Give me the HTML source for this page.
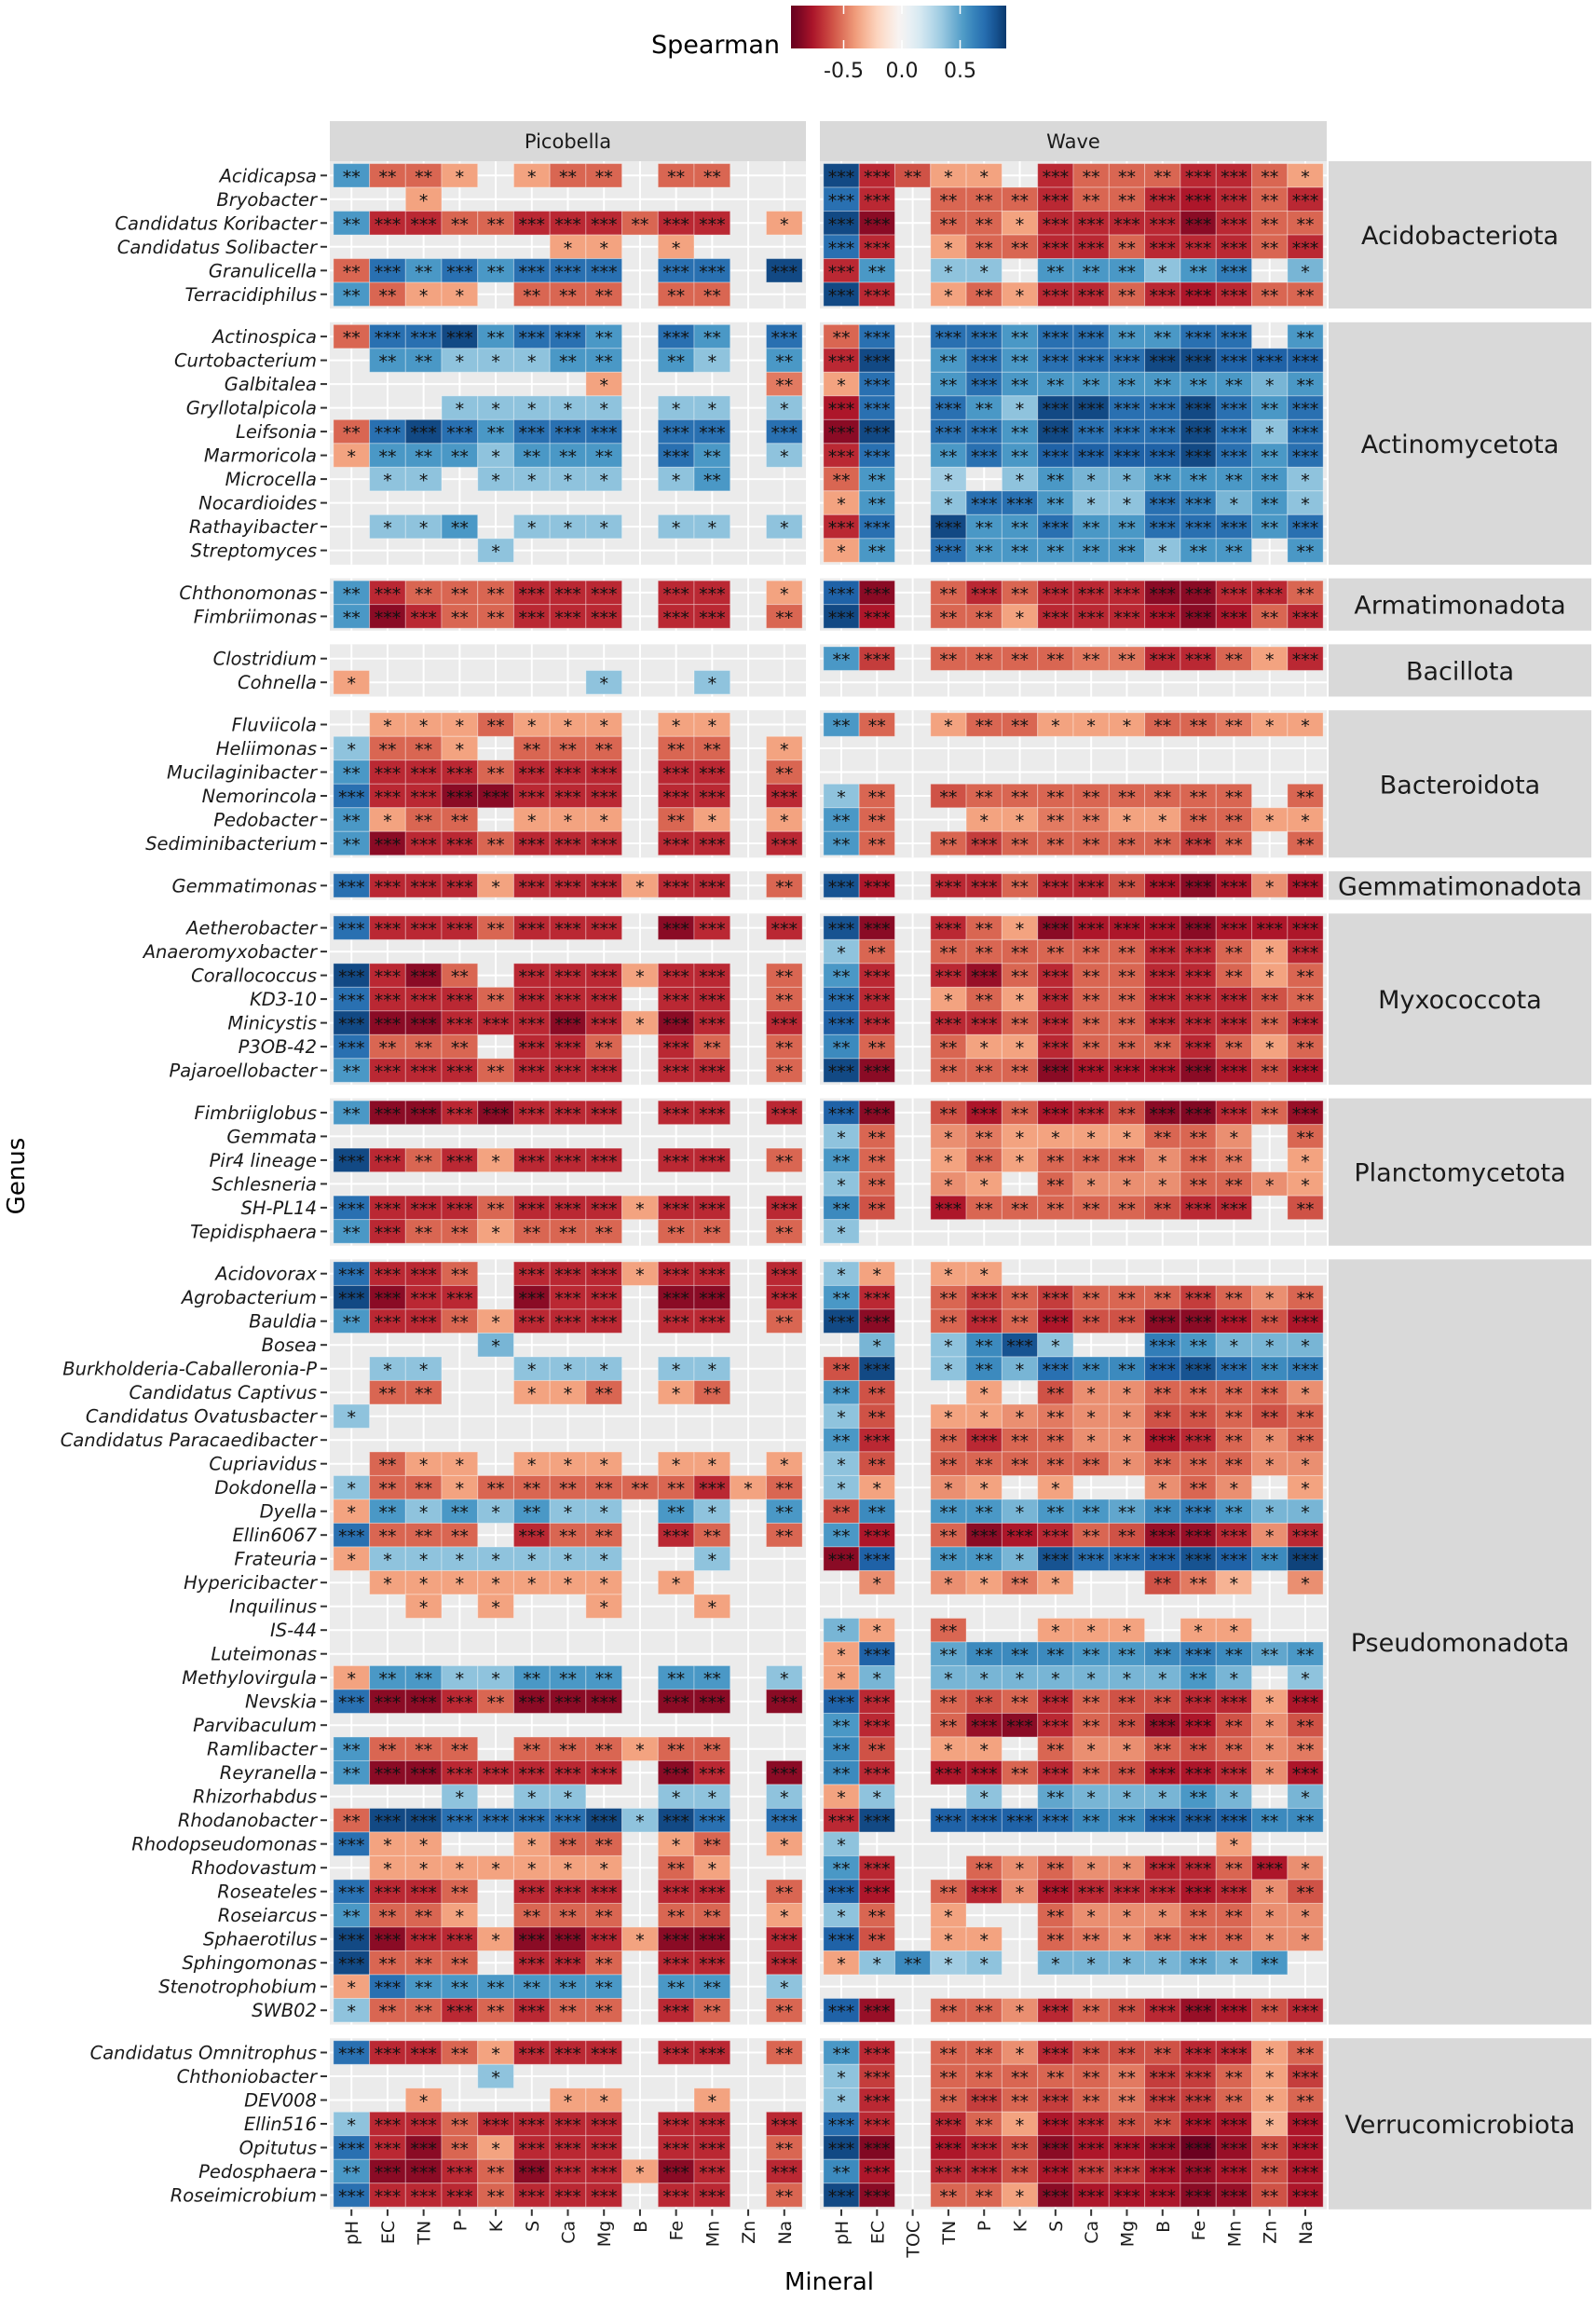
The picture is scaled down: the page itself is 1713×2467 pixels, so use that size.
<!DOCTYPE html>
<html><head><meta charset="utf-8"><style>
html,body{margin:0;padding:0;background:#fff}
svg text{font-family:"DejaVu Sans","Liberation Sans",sans-serif}
</style></head><body>
<svg id="chart" xmlns="http://www.w3.org/2000/svg" width="1713" height="2462" viewBox="0 0 1713 2462">
<rect x="0" y="0" width="1713" height="2462" fill="#fff"/>
</svg>
<script>
const _ = null;
const picoCols = ["pH","EC","TN","P","K","S","Ca","Mg","B","Fe","Mn","Zn","Na"];
const waveCols = ["pH","EC","TOC","TN","P","K","S","Ca","Mg","B","Fe","Mn","Zn","Na"];
const phyla = ["Acidobacteriota","Actinomycetota","Armatimonadota","Bacillota","Bacteroidota","Gemmatimonadota","Myxococcota","Planctomycetota","Pseudomonadota","Verrucomicrobiota"];
const genera = [
 ["Acidicapsa","Bryobacter","Candidatus Koribacter","Candidatus Solibacter","Granulicella","Terracidiphilus"],
 ["Actinospica","Curtobacterium","Galbitalea","Gryllotalpicola","Leifsonia","Marmoricola","Microcella","Nocardioides","Rathayibacter","Streptomyces"],
 ["Chthonomonas","Fimbriimonas"],
 ["Clostridium","Cohnella"],
 ["Fluviicola","Heliimonas","Mucilaginibacter","Nemorincola","Pedobacter","Sediminibacterium"],
 ["Gemmatimonas"],
 ["Aetherobacter","Anaeromyxobacter","Corallococcus","KD3-10","Minicystis","P3OB-42","Pajaroellobacter"],
 ["Fimbriiglobus","Gemmata","Pir4 lineage","Schlesneria","SH-PL14","Tepidisphaera"],
 ["Acidovorax","Agrobacterium","Bauldia","Bosea","Burkholderia-Caballeronia-P","Candidatus Captivus","Candidatus Ovatusbacter","Candidatus Paracaedibacter","Cupriavidus","Dokdonella","Dyella","Ellin6067","Frateuria","Hypericibacter","Inquilinus","IS-44","Luteimonas","Methylovirgula","Nevskia","Parvibaculum","Ramlibacter","Reyranella","Rhizorhabdus","Rhodanobacter","Rhodopseudomonas","Rhodovastum","Roseateles","Roseiarcus","Sphaerotilus","Sphingomonas","Stenotrophobium","SWB02"],
 ["Candidatus Omnitrophus","Chthoniobacter","DEV008","Ellin516","Opitutus","Pedosphaera","Roseimicrobium"]
];
// Picobella Spearman values (rows in genus order, columns picoCols)
const picoValues = [
 [.5,-.5,-.5,-.35,_,-.35,-.5,-.5,_,-.5,-.5,_,_],
 [_,_,-.35],
 [.5,-.65,-.65,-.5,-.5,-.65,-.65,-.65,-.5,-.65,-.65,_,-.35],
 [_,_,_,_,_,_,-.35,-.35,_,-.35],
 [-.5,.65,.5,.65,.5,.65,.65,.65,_,.65,.65,_,.78],
 [.5,-.5,-.35,-.35,_,-.5,-.5,-.5,_,-.5,-.5,_,_],
 [-.5,.65,.65,.78,.5,.65,.65,.5,_,.65,.5,_,.65],
 [_,.5,.5,.35,.35,.35,.5,.5,_,.5,.35,_,.5],
 [_,_,_,_,_,_,_,-.35,_,_,_,_,-.45],
 [_,_,_,.35,.35,.35,.35,.35,_,.35,.35,_,.35],
 [-.5,.65,.78,.65,.5,.65,.65,.65,_,.65,.65,_,.65],
 [-.35,.5,.5,.5,.35,.5,.5,.5,_,.65,.5,_,.35],
 [_,.35,.35,_,.35,.35,.35,.35,_,.35,.5],
 [],
 [_,.35,.35,.5,_,.35,.35,.35,_,.35,.35,_,.35],
 [_,_,_,_,.35],
 [.5,-.65,-.5,-.5,-.5,-.65,-.65,-.65,_,-.65,-.65,_,-.35],
 [.5,-.78,-.65,-.5,-.5,-.65,-.65,-.65,_,-.65,-.65,_,-.5],
 [],
 [-.35,_,_,_,_,_,_,.35,_,_,.35],
 [_,-.35,-.35,-.35,-.5,-.35,-.35,-.35,_,-.35,-.35],
 [.35,-.5,-.5,-.35,_,-.5,-.5,-.5,_,-.5,-.5,_,-.35],
 [.5,-.65,-.65,-.65,-.5,-.65,-.65,-.65,_,-.65,-.65,_,-.5],
 [.65,-.65,-.65,-.78,-.78,-.65,-.65,-.65,_,-.65,-.65,_,-.65],
 [.5,-.35,-.5,-.5,_,-.35,-.35,-.35,_,-.5,-.35,_,-.35],
 [.5,-.78,-.65,-.65,-.5,-.65,-.65,-.65,_,-.65,-.65,_,-.65],
 [.65,-.65,-.65,-.65,-.35,-.65,-.65,-.65,-.35,-.65,-.65,_,-.5],
 [.65,-.65,-.65,-.65,-.5,-.65,-.65,-.65,_,-.78,-.65,_,-.65],
 [],
 [.78,-.65,-.78,-.5,_,-.65,-.65,-.65,-.35,-.65,-.65,_,-.5],
 [.65,-.65,-.65,-.65,-.5,-.65,-.65,-.65,_,-.65,-.65,_,-.5],
 [.78,-.78,-.78,-.65,-.65,-.65,-.78,-.65,-.35,-.78,-.65,_,-.65],
 [.65,-.5,-.5,-.5,_,-.65,-.65,-.5,_,-.65,-.5,_,-.5],
 [.5,-.65,-.65,-.65,-.5,-.65,-.65,-.65,_,-.65,-.65,_,-.5],
 [.5,-.78,-.78,-.65,-.78,-.65,-.65,-.65,_,-.65,-.65,_,-.65],
 [],
 [.78,-.65,-.5,-.65,-.35,-.65,-.65,-.65,_,-.65,-.65,_,-.5],
 [],
 [.65,-.65,-.65,-.65,-.5,-.65,-.65,-.65,-.35,-.65,-.65,_,-.65],
 [.5,-.65,-.5,-.5,-.35,-.5,-.5,-.5,_,-.5,-.5,_,-.5],
 [.65,-.65,-.65,-.5,_,-.65,-.65,-.65,-.35,-.65,-.65,_,-.65],
 [.78,-.78,-.65,-.65,_,-.78,-.65,-.65,_,-.78,-.78,_,-.65],
 [.5,-.65,-.65,-.5,-.35,-.65,-.65,-.65,_,-.65,-.65,_,-.5],
 [_,_,_,_,.4],
 [_,.35,.35,_,_,.35,.35,.35,_,.35,.35],
 [_,-.5,-.5,_,_,-.35,-.35,-.5,_,-.35,-.5],
 [.35],
 [],
 [_,-.5,-.35,-.35,_,-.35,-.35,-.35,_,-.35,-.35,_,-.35],
 [.35,-.5,-.5,-.35,-.5,-.5,-.5,-.5,-.5,-.5,-.65,-.35,-.5],
 [-.35,.5,.35,.5,.35,.5,.35,.35,_,.5,.35,_,.5],
 [.65,-.5,-.5,-.5,_,-.65,-.5,-.5,_,-.65,-.5,_,-.5],
 [-.35,.35,.35,.35,.35,.35,.35,.35,_,_,.35],
 [_,-.35,-.35,-.35,-.35,-.35,-.35,-.35,_,-.35],
 [_,_,-.35,_,-.35,_,_,-.35,_,_,-.35],
 [],
 [],
 [-.35,.5,.5,.35,.35,.5,.5,.5,_,.5,.5,_,.35],
 [.65,-.78,-.78,-.65,-.5,-.78,-.78,-.78,_,-.78,-.78,_,-.78],
 [],
 [.5,-.5,-.5,-.5,_,-.5,-.5,-.5,-.35,-.5,-.5],
 [.5,-.78,-.78,-.65,-.65,-.65,-.65,-.65,_,-.78,-.65,_,-.78],
 [_,_,_,.35,_,.35,.35,_,_,.35,.35,_,.35],
 [-.5,.78,.78,.65,.65,.65,.65,.78,.35,.78,.65,_,.65],
 [.65,-.35,-.35,_,_,-.35,-.5,-.5,_,-.35,-.5,_,-.35],
 [_,-.35,-.35,-.35,-.35,-.35,-.35,-.35,_,-.5,-.35],
 [.65,-.65,-.65,-.5,_,-.65,-.65,-.65,_,-.65,-.65,_,-.5],
 [.5,-.5,-.5,-.35,_,-.5,-.5,-.5,_,-.5,-.5,_,-.35],
 [.78,-.78,-.65,-.65,-.35,-.78,-.78,-.65,-.35,-.78,-.78,_,-.65],
 [.78,-.5,-.5,-.5,_,-.65,-.65,-.5,_,-.65,-.65,_,-.65],
 [-.35,.65,.5,.5,.5,.5,.5,.5,_,.5,.5,_,.35],
 [.35,-.5,-.5,-.65,-.5,-.65,-.5,-.5,_,-.65,-.5,_,-.5],
 [.65,-.65,-.65,-.5,-.35,-.65,-.65,-.65,_,-.65,-.65,_,-.5],
 [_,_,_,_,.35],
 [_,_,-.35,_,_,_,-.35,-.35,_,_,-.35],
 [.35,-.65,-.65,-.5,-.65,-.65,-.65,-.65,_,-.65,-.65,_,-.65],
 [.65,-.65,-.78,-.5,-.35,-.65,-.65,-.65,_,-.65,-.65,_,-.5],
 [.5,-.78,-.78,-.65,-.5,-.78,-.65,-.65,-.35,-.78,-.65,_,-.65],
 [.65,-.65,-.65,-.65,-.5,-.65,-.65,-.65,_,-.65,-.65,_,-.5]
];
// Wave Spearman values (columns waveCols)
const waveValues = [
 [.78,-.65,-.55,-.35,-.35,_,-.65,-.5,-.5,-.5,-.65,-.65,-.5,-.35],
 [.65,-.65,_,-.5,-.5,-.5,-.65,-.5,-.5,-.65,-.7,-.65,-.5,-.65],
 [.78,-.78,_,-.5,-.5,-.35,-.65,-.65,-.65,-.65,-.78,-.65,-.5,-.5],
 [.65,-.65,_,-.35,-.5,-.5,-.65,-.65,-.5,-.65,-.65,-.65,-.5,-.65],
 [-.65,.5,_,.35,.35,_,.5,.5,.5,.35,.5,.6,_,.4],
 [.78,-.65,_,-.35,-.5,-.35,-.65,-.65,-.5,-.65,-.7,-.65,-.5,-.5],
 [-.5,.65,_,.65,.65,.5,.65,.65,.5,.5,.65,.65,_,.5],
 [-.65,.78,_,.5,.65,.5,.65,.65,.65,.78,.78,.7,.7,.7],
 [-.35,.65,_,.5,.65,.5,.5,.5,.5,.5,.5,.5,.4,.5],
 [-.7,.65,_,.65,.5,.35,.78,.78,.65,.65,.78,.65,.5,.65],
 [-.78,.78,_,.65,.65,.5,.78,.65,.65,.65,.78,.65,.35,.65],
 [-.65,.65,_,.5,.65,.5,.7,.7,.7,.7,.78,.65,.5,.65],
 [-.5,.5,_,.3,_,.35,.5,.4,.4,.5,.5,.5,.5,.35],
 [-.35,.5,_,.35,.65,.65,.5,.35,.35,.65,.6,.4,.5,.35],
 [-.65,.65,_,.78,.5,.5,.65,.5,.5,.65,.65,.65,.5,.65],
 [-.35,.5,_,.65,.5,.5,.5,.5,.5,.35,.5,.5,_,.5],
 [.7,-.78,_,-.5,-.65,-.5,-.65,-.65,-.65,-.78,-.78,-.65,-.65,-.5],
 [.78,-.7,_,-.5,-.5,-.35,-.65,-.65,-.65,-.7,-.78,-.7,-.5,-.65],
 [.5,-.6,_,-.5,-.5,-.5,-.5,-.45,-.45,-.65,-.65,-.5,-.35,-.65],
 [],
 [.5,-.5,_,-.35,-.5,-.5,-.35,-.35,-.35,-.5,-.5,-.45,-.35,-.35],
 [],
 [],
 [.35,-.5,_,-.55,-.5,-.5,-.5,-.5,-.5,-.5,-.5,-.5,_,-.5],
 [.5,-.5,_,_,-.35,-.35,-.45,-.45,-.35,-.35,-.5,-.5,-.35,-.35],
 [.5,-.5,_,-.5,-.6,-.5,-.5,-.5,-.5,-.5,-.6,-.5,_,-.5],
 [.75,-.7,_,-.65,-.65,-.5,-.65,-.65,-.55,-.7,-.78,-.7,-.4,-.7],
 [.75,-.78,_,-.65,-.5,-.35,-.78,-.7,-.7,-.7,-.78,-.7,-.7,-.7],
 [.35,-.5,_,-.5,-.5,-.5,-.5,-.5,-.5,-.65,-.65,-.5,-.35,-.65],
 [.5,-.65,_,-.65,-.75,-.5,-.65,-.5,-.5,-.65,-.65,-.5,-.35,-.5],
 [.65,-.65,_,-.35,-.5,-.35,-.65,-.5,-.5,-.65,-.65,-.65,-.55,-.5],
 [.7,-.65,_,-.65,-.65,-.5,-.65,-.5,-.5,-.65,-.65,-.65,-.5,-.65],
 [.55,-.5,_,-.5,-.35,-.35,-.65,-.5,-.5,-.5,-.65,-.5,-.35,-.5],
 [.78,-.78,_,-.5,-.5,-.5,-.78,-.7,-.7,-.7,-.78,-.7,-.55,-.7],
 [.7,-.78,_,-.55,-.7,-.5,-.7,-.65,-.55,-.78,-.8,-.65,-.5,-.75],
 [.35,-.5,_,-.4,-.45,-.35,-.35,-.35,-.35,-.5,-.5,-.4,_,-.5],
 [.5,-.5,_,-.35,-.5,-.35,-.5,-.5,-.5,-.4,-.5,-.45,_,-.35],
 [.35,-.5,_,-.4,-.35,_,-.5,-.4,-.4,-.4,-.5,-.5,-.4,-.35],
 [.55,-.55,_,-.7,-.5,-.5,-.5,-.5,-.5,-.55,-.65,-.65,_,-.55],
 [.35],
 [.35,-.35,_,-.35,-.35],
 [.5,-.65,_,-.5,-.6,-.5,-.6,-.5,-.5,-.5,-.6,-.5,-.4,-.5],
 [.78,-.78,_,-.5,-.65,-.5,-.7,-.55,-.55,-.78,-.78,-.7,-.55,-.7],
 [_,.4,_,.35,.55,.75,.35,_,_,.6,.5,.4,.4,.4],
 [-.55,.78,_,.35,.55,.4,.65,.55,.55,.7,.75,.65,.55,.6],
 [.5,-.55,_,_,-.35,_,-.55,-.4,-.4,-.5,-.5,-.5,-.5,-.4],
 [.35,-.55,_,-.35,-.35,-.4,-.45,-.4,-.4,-.55,-.55,-.5,-.55,-.5],
 [.5,-.65,_,-.5,-.65,-.5,-.5,-.4,-.4,-.7,-.65,-.5,-.4,-.5],
 [.35,-.55,_,-.5,-.5,-.5,-.5,-.5,-.4,-.5,-.5,-.5,-.4,-.4],
 [.35,-.35,_,-.4,-.35,_,-.35,_,_,-.4,-.5,-.4,_,-.35],
 [-.55,.55,_,.5,.5,.4,.5,.5,.45,.55,.6,.5,.4,.4],
 [.5,-.7,_,-.5,-.78,-.7,-.65,-.5,-.55,-.75,-.75,-.65,-.4,-.65],
 [-.78,.7,_,.5,.5,.4,.75,.65,.65,.7,.75,.7,.55,.8],
 [_,-.4,_,-.4,-.35,-.45,-.35,_,_,-.55,-.45,-.3,_,-.4],
 [],
 [.4,-.35,_,-.5,_,_,-.35,-.35,-.35,_,-.35,-.35],
 [-.35,.7,_,.45,.55,.55,.55,.5,.5,.55,.6,.55,.45,.5],
 [-.35,.4,_,.4,.4,.4,.4,.4,.4,.4,.5,.4,_,.35],
 [.7,-.65,_,-.5,-.55,-.5,-.65,-.5,-.55,-.55,-.65,-.65,-.35,-.7],
 [.5,-.65,_,-.5,-.75,-.78,-.65,-.5,-.55,-.75,-.7,-.55,-.4,-.55],
 [.55,-.55,_,-.35,-.35,_,-.5,-.4,-.4,-.5,-.55,-.5,-.4,-.45],
 [.55,-.65,_,-.7,-.7,-.5,-.65,-.5,-.55,-.7,-.7,-.65,-.4,-.7],
 [-.35,.35,_,_,.35,_,.45,.4,.4,.4,.5,.4,_,.4],
 [-.65,.78,_,.7,.7,.7,.65,.55,.55,.7,.72,.7,.55,.55],
 [.35,_,_,_,_,_,_,_,_,_,_,-.35],
 [.5,-.65,_,_,-.5,-.4,-.5,-.4,-.4,-.65,-.65,-.5,-.7,-.4],
 [.7,-.7,_,-.5,-.65,-.4,-.7,-.65,-.65,-.65,-.7,-.65,-.4,-.55],
 [.35,-.5,_,-.35,_,_,-.5,-.4,-.4,-.4,-.5,-.5,-.4,-.4],
 [.7,-.55,_,-.35,-.35,_,-.5,-.45,-.4,-.5,-.5,-.5,-.4,-.4],
 [-.35,.35,.55,.3,.35,_,.4,.4,.4,.4,.45,.4,.5],
 [],
 [.7,-.75,_,-.5,-.5,-.4,-.65,-.5,-.55,-.65,-.75,-.7,-.55,-.65],
 [.5,-.65,_,-.5,-.5,-.4,-.65,-.55,-.55,-.55,-.65,-.65,-.35,-.5],
 [.35,-.6,_,-.5,-.5,-.5,-.5,-.5,-.45,-.6,-.6,-.5,-.35,-.6],
 [.35,-.65,_,-.5,-.6,-.5,-.6,-.5,-.45,-.6,-.6,-.5,-.35,-.5],
 [.65,-.65,_,-.65,-.5,-.35,-.7,-.65,-.55,-.55,-.7,-.7,-.3,-.7],
 [.78,-.8,_,-.7,-.65,-.55,-.78,-.7,-.7,-.75,-.85,-.75,-.55,-.7],
 [.55,-.7,_,-.65,-.65,-.55,-.7,-.6,-.6,-.7,-.75,-.7,-.55,-.7],
 [.78,-.78,_,-.5,-.5,-.35,-.78,-.7,-.7,-.7,-.78,-.75,-.55,-.7]
];
const legendTicks = [-0.5, 0.0, 0.5];

const NS = "http://www.w3.org/2000/svg";
const svg = document.getElementById("chart");
function el(tag, attrs, parent, text) {
  const e = document.createElementNS(NS, tag);
  for (const k in attrs) e.setAttribute(k, attrs[k]);
  if (text !== undefined) e.textContent = text;
  (parent || svg).appendChild(e);
  return e;
}
const RDBU = ["#67001f","#b2182b","#d6604d","#f4a582","#fddbc7","#f7f7f7","#d1e5f0","#92c5de","#4393c3","#2166ac","#053061"];
function hex2rgb(h){return [1,3,5].map(i=>parseInt(h.substr(i,2),16));}
function colorFor(v, lim){
  let t = (Math.max(-lim, Math.min(lim, v)) / lim + 1) / 2 * 10;
  const i = Math.min(9, Math.floor(t)), f = t - i;
  const a = hex2rgb(RDBU[i]), b = hex2rgb(RDBU[i+1]);
  return "rgb(" + a.map((c,k)=>Math.round(c + (b[k]-c)*f)).join(",") + ")";
}
const CELL_LIM = 0.86, LEG_LIM = 0.93;
function starsFor(v){ const a = Math.abs(v); return a < 0.42 ? "*" : a < 0.58 ? "**" : "***"; }

const Y0 = 173, U = 25.5, GAP = 14.7;
const panels = [
  {name:"picobella", label:"Picobella", x0:354, w:511, cols:picoCols, vals:picoValues},
  {name:"wave", label:"Wave", x0:880, w:544, cols:waveCols, vals:waveValues}
];
panels.forEach(p => { p.ux = p.w / (p.cols.length + 0.2); p.cx = i => p.x0 + (0.6 + i) * p.ux; });
const groups = [];
let yCur = Y0, rowIdx = 0;
phyla.forEach((ph, g) => {
  const n = genera[g].length, h = (n + 0.2) * U;
  groups.push({ph, top:yCur, h, n, start:rowIdx});
  yCur += h + GAP; rowIdx += n;
});
const yBottom = groups[groups.length-1].top + groups[groups.length-1].h;

const lg = el("g", {}, svg);


const ltt = el("text", {x:699, y:57, "font-size":27, fill:"#000"}, lg, "Spearman");


const defs = el("defs", {}, svg);
const grad = el("linearGradient", {id:"rdbu", x1:"0", x2:"1", y1:"0", y2:"0"}, defs);
for (let k = 0; k <= 20; k++) {
  const v = -0.95 + (1.85 * k / 20);
  el("stop", {offset:(k/20), "stop-color":colorFor(v, LEG_LIM)}, grad);
}
const cb = el("rect", {x:849, y:6, width:231, height:46, fill:"url(#rdbu)"}, lg);


const lgScale = v => 968 + v * 125;
legendTicks.forEach(v => {
  const x = lgScale(v);
  el("line", {x1:x, x2:x, y1:6, y2:15, stroke:"#fff", "stroke-width":1.5}, lg);
  el("line", {x1:x, x2:x, y1:43, y2:52, stroke:"#fff", "stroke-width":1.5}, lg);
  const t = el("text", {x:x, y:83, "font-size":22, "text-anchor":"middle", fill:"#1a1a1a"}, lg, v.toFixed(1));
  
  
});

panels.forEach(p => {
  const s = el("rect", {x:p.x0, y:130, width:p.w, height:43, fill:"#d9d9d9"});
  
  
  const t = el("text", {x:p.x0 + p.w/2, y:159, "font-size":21, "text-anchor":"middle", fill:"#1a1a1a"}, svg, p.label);
  
  
});

groups.forEach((gr, g) => {
  const rowY = i => gr.top + (0.6 + i) * U;
  panels.forEach(p => {
    const pg = el("g", {});
    
    
    el("rect", {x:p.x0, y:gr.top, width:p.w, height:gr.h, fill:"#ebebeb"}, pg);
    p.cols.forEach((c, i) => el("line", {x1:p.cx(i), x2:p.cx(i), y1:gr.top, y2:gr.top+gr.h, stroke:"#fff", "stroke-width":2}, pg));
    for (let r = 0; r < gr.n; r++) el("line", {x1:p.x0, x2:p.x0+p.w, y1:rowY(r), y2:rowY(r), stroke:"#fff", "stroke-width":2}, pg);
    for (let r = 0; r < gr.n; r++) {
      const row = p.vals[gr.start + r] || [];
      p.cols.forEach((c, i) => {
        const v = row[i];
        if (v === null || v === undefined) return;
        const cell = el("rect", {x:p.cx(i) - p.ux/2, y:rowY(r) - U/2, width:p.ux, height:U, fill:colorFor(v, CELL_LIM), stroke:"rgba(255,255,255,0.35)", "stroke-width":1}, pg);
        
        
        const st = el("text", {x:p.cx(i), y:rowY(r) + 8, "font-size":19, "text-anchor":"middle", fill:"#111"}, pg, starsFor(v));
        
        
      });
    }
  });
  const rs = el("rect", {x:1426, y:gr.top, width:282, height:gr.h, fill:"#d9d9d9"});
  
  
  const rt = el("text", {x:1567, y:gr.top + gr.h/2 + 10, "font-size":27, "text-anchor":"middle", fill:"#1a1a1a"}, svg, gr.ph);
  
  
  genera[g].forEach((name, r) => {
    el("line", {x1:344, x2:351, y1:rowY(r), y2:rowY(r), stroke:"#333", "stroke-width":2});
    const t = el("text", {x:340, y:rowY(r) + 7, "font-size":19.5, "font-style":"italic", "text-anchor":"end", fill:"#1a1a1a"}, svg, name);
    
    
  });
});

panels.forEach(p => {
  p.cols.forEach((c, i) => {
    const x = p.cx(i);
    el("line", {x1:x, x2:x, y1:yBottom, y2:yBottom+7, stroke:"#333", "stroke-width":2});
    const t = el("text", {x:x + 7, y:yBottom + 12, "font-size":19, "text-anchor":"end", fill:"#1a1a1a", transform:"rotate(-90 " + (x+7) + " " + (yBottom+12) + ")"}, svg, c);
    
    
  });
});
const xt = el("text", {x:890, y:2457, "font-size":26, "text-anchor":"middle", fill:"#000"}, svg, "Mineral");


const yt = el("text", {x:26, y:1262, "font-size":26, "text-anchor":"middle", fill:"#000", transform:"rotate(-90 26 1262)"}, svg, "Genus");


</script>
</body></html>
